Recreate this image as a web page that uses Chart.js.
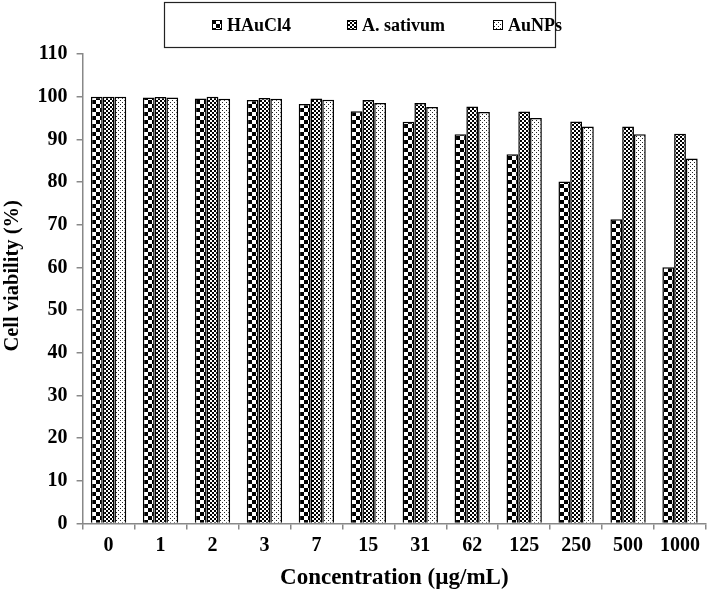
<!DOCTYPE html>
<html>
<head>
<meta charset="utf-8">
<script src="https://cdn.jsdelivr.net/npm/chart.js@4.4.1/dist/chart.umd.min.js"></script>
<style>
  html, body { margin: 0; padding: 0; background: #fff; }
  #wrap { width: 707px; height: 593px; position: relative; }
</style>
</head>
<body>
<div id="wrap"><canvas id="c"></canvas></div>
<script>
// ---- data ----
const categories = ["0", "1", "2", "3", "7", "15", "31", "62", "125", "250", "500", "1000"];
const seriesNames = ["HAuCl4", "A. sativum", "AuNPs"];
const hauc14Values = [100, 99.8, 99.6, 99.2, 98.3, 96.6, 94.1, 91.2, 86.5, 80.1, 71.3, 60.0];
const sativumValues = [100, 99.9, 100, 99.7, 99.6, 99.2, 98.5, 97.7, 96.5, 94.2, 93.0, 91.3];
const auNPsValues = [100, 99.8, 99.5, 99.5, 99.3, 98.5, 97.6, 96.4, 95.0, 93.0, 91.2, 85.5];
const yTicks = [0, 10, 20, 30, 40, 50, 60, 70, 80, 90, 100, 110];

// ---- patterns ----
function makePattern(kind) {
  const c = document.createElement('canvas');
  const ctx = c.getContext('2d');
  if (kind === 'bigcheck') {
    c.width = 8; c.height = 8;
    ctx.fillStyle = '#fff'; ctx.fillRect(0, 0, 8, 8);
    ctx.fillStyle = '#000'; ctx.fillRect(0, 0, 4, 4); ctx.fillRect(4, 4, 4, 4);
  } else if (kind === 'smallcheck') {
    c.width = 4; c.height = 4;
    ctx.fillStyle = '#fff'; ctx.fillRect(0, 0, 4, 4);
    ctx.fillStyle = '#000'; ctx.fillRect(0, 0, 2, 2); ctx.fillRect(2, 2, 2, 2);
  } else {
    c.width = 4; c.height = 4;
    ctx.fillStyle = '#fff'; ctx.fillRect(0, 0, 4, 4);
    ctx.fillStyle = '#222'; ctx.fillRect(0, 0, 1, 1); ctx.fillRect(2, 2, 1, 1);
  }
  return ctx.createPattern(c, 'repeat');
}
const fills = [makePattern('bigcheck'), makePattern('smallcheck'), makePattern('dots')];
const seriesValues = [hauc14Values, sativumValues, auNPsValues];

const FONT = "'Liberation Serif', 'Times New Roman', serif";

// ---- custom boxed legend ----
const boxedLegend = {
  id: 'boxedLegend',
  afterDraw(chart, args, opts) {
    const ctx = chart.ctx;
    ctx.save();
    ctx.strokeStyle = '#222';
    ctx.lineWidth = 1.2;
    ctx.strokeRect(opts.box[0], opts.box[1], opts.box[2], opts.box[3]);
    ctx.font = "bold 18px " + FONT;
    ctx.textBaseline = 'middle';
    chart.data.datasets.forEach((ds, i) => {
      const x = opts.itemX[i];
      const y = opts.itemY;
      ctx.fillStyle = ds.backgroundColor;
      ctx.fillRect(x, y - 5, 10, 10);
      ctx.strokeStyle = '#000';
      ctx.lineWidth = 1;
      ctx.strokeRect(x + 0.5, y - 4.5, 9, 9);
      ctx.fillStyle = '#000';
      ctx.fillText(ds.label, x + 15, y + 1);
    });
    ctx.restore();
  }
};

new Chart(document.getElementById('c'), {
  type: 'bar',
  data: {
    labels: categories,
    datasets: seriesNames.map((name, i) => ({
      label: name,
      data: seriesValues[i],
      backgroundColor: fills[i],
      borderColor: '#000',
      borderWidth: 1.5,
      borderSkipped: 'bottom',
      categoryPercentage: 0.68,
      barPercentage: 1.0
    }))
  },
  options: {
    responsive: true,
    maintainAspectRatio: false,
    animation: false,
    layout: { padding: { top: 54, right: 1, left: 0, bottom: 1 } },
    plugins: {
      legend: { display: false },
      tooltip: { enabled: false },
      boxedLegend: { box: [164.5, 2.5, 391, 45], itemX: [212, 347, 493], itemY: 25 }
    },
    scales: {
      x: {
        grid: { display: true, drawOnChartArea: false, drawTicks: true, tickLength: 6, color: '#888', lineWidth: 1.5 },
        border: { display: true, color: '#888', width: 1.5 },
        ticks: { color: '#000', font: { family: FONT, size: 20, weight: 'bold' }, padding: 4, maxRotation: 0 },
        title: { display: true, text: 'Concentration (µg/mL)', color: '#000', font: { family: FONT, size: 23, weight: 'bold' }, padding: { top: 3, bottom: 0 } }
      },
      y: {
        min: 0, max: 110,
        afterBuildTicks: (scale) => { scale.ticks = yTicks.map(v => ({ value: v })); },
        grid: { display: true, drawOnChartArea: false, drawTicks: true, tickLength: 6, color: '#888', lineWidth: 1.5 },
        border: { display: true, color: '#888', width: 1.5 },
        ticks: { color: '#000', font: { family: FONT, size: 20, weight: 'bold' }, padding: 9 },
        title: { display: true, text: '\u00A0\u00A0\u00A0\u00A0\u00A0Cell viability (%)', color: '#000', font: { family: FONT, size: 20.5, weight: 'bold' }, padding: { top: 0, bottom: 4 } }
      }
    }
  },
  plugins: [boxedLegend]
});
</script>
</body>
</html>
